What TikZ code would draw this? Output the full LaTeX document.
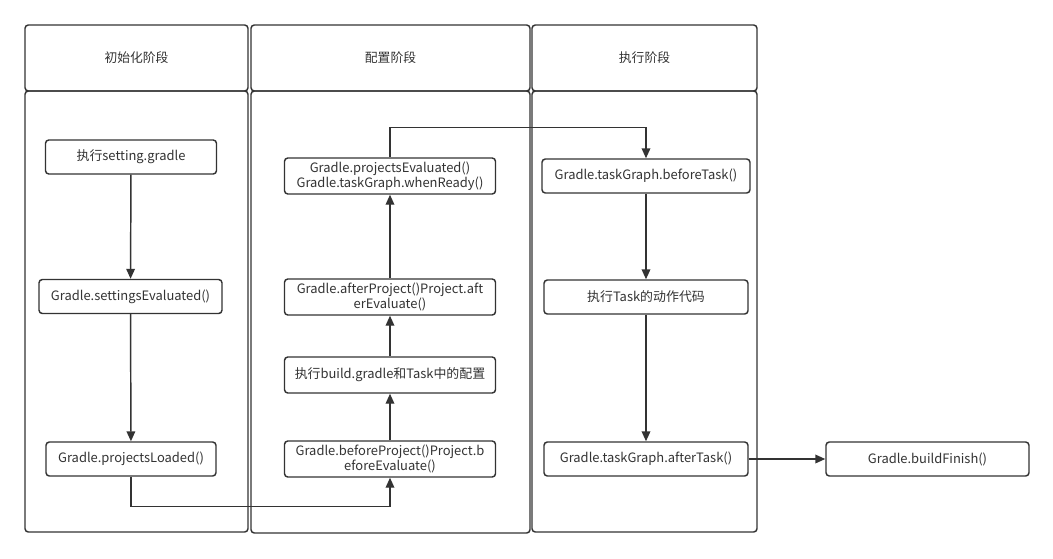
\documentclass[tikz,border=0pt]{standalone}
\usepackage{fontspec}
\setmainfont{Noto Sans CJK SC}
\usetikzlibrary{arrows.meta}
\definecolor{ink}{HTML}{333333}
\tikzset{
  lane/.style={draw=ink, line width=1.1pt, rounded corners=2.5pt},
  stepbox/.style={draw=ink, line width=1.1pt, rounded corners=2.5pt, fill=white,
    text=ink, inner sep=0pt, align=center, font=\fontsize{9.7}{11.4}\selectfont,
    minimum height=25.5pt},
  hdr/.style={text=ink, font=\fontsize{9.6}{11}\selectfont},
  arr/.style={draw=ink, line width=1.1pt, -{Triangle[length=7.5pt,width=6.5pt]}},
}
\begin{document}
\begin{tikzpicture}[x=0.75pt,y=-0.75pt]
\useasboundingbox (0,0) rectangle (1053,558);
% lanes
\draw[lane] (25,25) rectangle (248,91);
\draw[lane] (25,91) rectangle (248,532);
\draw[lane] (251,25) rectangle (530,91);
\draw[lane] (251,91) rectangle (530,533);
\draw[lane] (532,25) rectangle (757,91);
\draw[lane] (532,91) rectangle (757,532);
\node[hdr] (h1) at (136.5,58) {初始化阶段};
\node[hdr] (h2) at (390.5,58) {配置阶段};
\node[hdr] (h3) at (644.5,58) {执行阶段};
% init lane
\node[stepbox, minimum width=128.25pt] (set) at (131,157) {执行setting.gradle};
\node[stepbox, minimum width=137.25pt] (sev) at (130.5,296.5) {Gradle.settingsEvaluated()};
\node[stepbox, minimum width=127.5pt] (pl) at (131,459) {Gradle.projectsLoaded()};
% config lane
\node[stepbox, minimum width=158.25pt, minimum height=27pt] (pe) at (390,176) {Gradle.projectsEvaluated()\\Gradle.taskGraph.whenReady()};
\node[stepbox, minimum width=158.25pt, minimum height=27pt] (ap) at (390,297) {Gradle.afterProject()Project.aft\\erEvaluate()};
\node[stepbox, minimum width=158.25pt, minimum height=27pt] (bd) at (390,375) {执行build.gradle和Task中的配置};
\node[stepbox, minimum width=158.25pt, minimum height=27pt] (bp) at (390,459) {Gradle.beforeProject()Project.b\\eforeEvaluate()};
% exec lane
\node[stepbox, minimum width=156pt] (bt) at (646,176) {Gradle.taskGraph.beforeTask()};
\node[stepbox, minimum width=153pt] (tk) at (646,297) {执行Task的动作代码};
\node[stepbox, minimum width=153pt] (at) at (646,459) {Gradle.taskGraph.afterTask()};
\node[stepbox, minimum width=152.25pt] (bf) at (927.5,459) {Gradle.buildFinish()};
% connectors
\draw[arr] (set) -- (sev);
\draw[arr] (sev) -- (pl);
\draw[arr] (pl.south) -- ++(0,30) -| (bp.south);
\draw[arr] (bp) -- (bd);
\draw[arr] (bd) -- (ap);
\draw[arr] (ap) -- (pe);
\draw[arr] (pe.north) -- ++(0,-30) -| (bt.north);
\draw[arr] (bt) -- (tk);
\draw[arr] (tk) -- (at);
\draw[arr] (at) -- (bf);
\end{tikzpicture}
\end{document}
